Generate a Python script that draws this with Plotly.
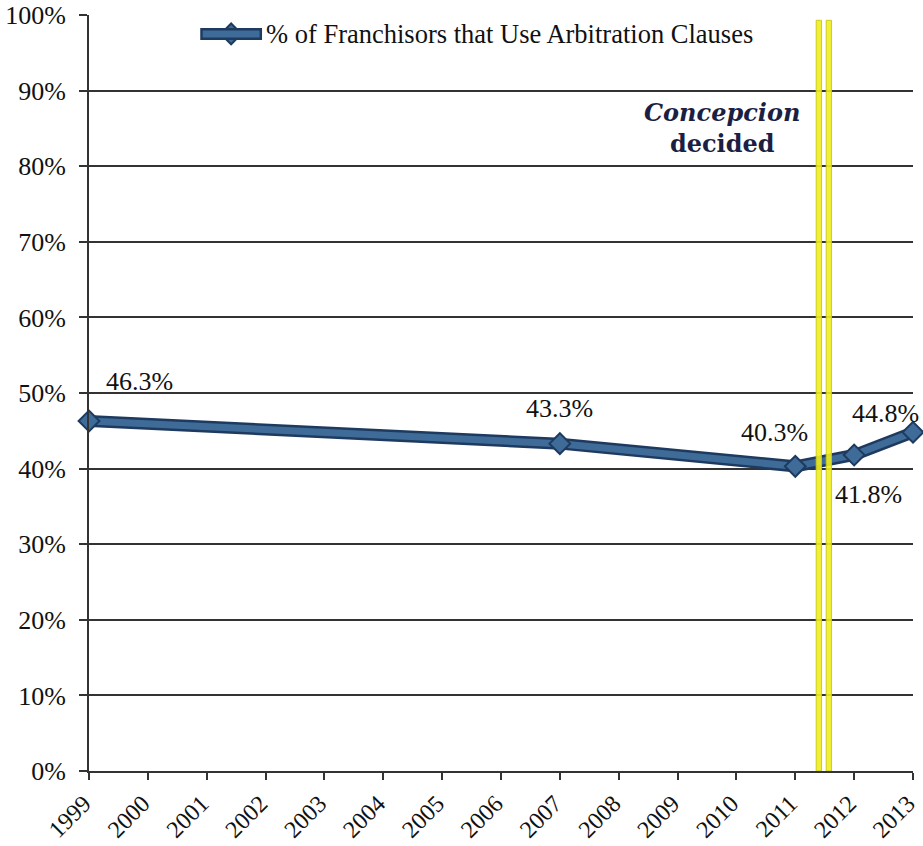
import plotly.graph_objects as go

years = [1999, 2007, 2011, 2012, 2013]
pct = [46.3, 43.3, 40.3, 41.8, 44.8]
labels = ["46.3%", "43.3%", "40.3%", "41.8%", "44.8%"]
tick_years = list(range(1999, 2014))
y_ticks = list(range(0, 101, 10))
y_ticktext = [f"{v}%" for v in y_ticks]
series_name = "% of Franchisors that Use Arbitration Clauses"
concepcion_x = [2011.40, 2011.57]

FONT = "Liberation Serif"
INNER = "#3f6b99"
EDGE = "#1e3a5f"
TXT = "#111111"

# label offsets (px)
offs = [(50, 39), (0, 35), (-21, 34), (14, -40), (-28, 19)]

fig = go.Figure()
fig.add_trace(go.Scatter(x=years, y=pct, mode="lines", line=dict(color=EDGE, width=12),
                         showlegend=False, hoverinfo="skip", cliponaxis=False))
fig.add_trace(go.Scatter(x=years, y=pct, mode="lines+markers", name=series_name,
                         line=dict(color=INNER, width=7),
                         marker=dict(symbol="diamond", size=16, color=INNER,
                                     line=dict(color=EDGE, width=2)),
                         showlegend=False, cliponaxis=False))

for x, y, t, (dx, dy) in zip(years, pct, labels, offs):
    fig.add_annotation(x=x, y=y, text=t, showarrow=False, xshift=dx, yshift=dy,
                       font=dict(family=FONT, size=26, color=TXT))

for cx in concepcion_x:
    fig.add_shape(type="rect", x0=cx - 0.045, x1=cx + 0.045, y0=0, y1=99.3,
                  xref="x", yref="y", fillcolor="rgba(240,238,30,0.9)",
                  line=dict(color="rgba(200,200,20,0.9)", width=1), layer="above")

fig.add_annotation(x=2009.75, y=85, xref="x", yref="y", showarrow=False,
                   text="<b><i>Concepcion</i></b><br><b>decided</b>",
                   font=dict(family="DejaVu Serif", size=24, color="#1b1f44"),
                   align="center")

# custom legend (paper coords)
lx0, lx1, ly = 0.135, 0.21, 0.975
fig.add_shape(type="line", xref="paper", yref="paper", x0=lx0, x1=lx1, y0=ly, y1=ly,
              line=dict(color=EDGE, width=12))
fig.add_shape(type="line", xref="paper", yref="paper", x0=lx0 + 0.003, x1=lx1 - 0.003, y0=ly, y1=ly,
              line=dict(color=INNER, width=7))
fig.add_trace(go.Scatter(x=[(lx0 + lx1) / 2], y=[ly], xaxis="x2", yaxis="y2", mode="markers",
                         marker=dict(symbol="diamond", size=16, color=INNER,
                                     line=dict(color=EDGE, width=2)),
                         showlegend=False, hoverinfo="skip", cliponaxis=False))
fig.add_annotation(x=lx1 + 0.002, y=ly, xref="paper", yref="paper", xanchor="left",
                   yanchor="middle", showarrow=False, text=series_name,
                   font=dict(family=FONT, size=26.5, color=TXT))

fig.update_layout(
    template="none",
    width=923, height=846,
    margin=dict(l=89, r=10, t=15, b=75, autoexpand=False),
    paper_bgcolor="white", plot_bgcolor="white",
    font=dict(family=FONT, size=25, color=TXT),
    xaxis=dict(range=[1999, 2013], tickmode="array", tickvals=tick_years,
               ticktext=[str(y) for y in tick_years], tickangle=-45, automargin=False,
               ticklabeloverflow="allow", ticklabelshift=-5,
               showgrid=False, zeroline=False, showline=True, linecolor="#333333",
               linewidth=2, ticks="outside", ticklen=7, tickwidth=2, tickcolor="#333333",
               tickfont=dict(family=FONT, size=24, color=TXT)),
    yaxis=dict(range=[0, 100], tickmode="array", tickvals=y_ticks, ticktext=y_ticktext,
               automargin=False, ticklabelstandoff=8, ticklabeloverflow="allow",
               showgrid=True, gridcolor="#333333", gridwidth=2, zeroline=False,
               showline=True, linecolor="#333333", linewidth=2,
               ticks="outside", ticklen=8, tickwidth=2, tickcolor="#333333",
               tickfont=dict(family=FONT, size=26, color=TXT)),
    xaxis2=dict(range=[0, 1], overlaying="x", visible=False, fixedrange=True),
    yaxis2=dict(range=[0, 1], overlaying="y", visible=False, fixedrange=True),
)

fig.write_html("out.html", config={"displayModeBar": False},
               post_script="document.body.style.margin='0';document.body.style.overflow='hidden';")
